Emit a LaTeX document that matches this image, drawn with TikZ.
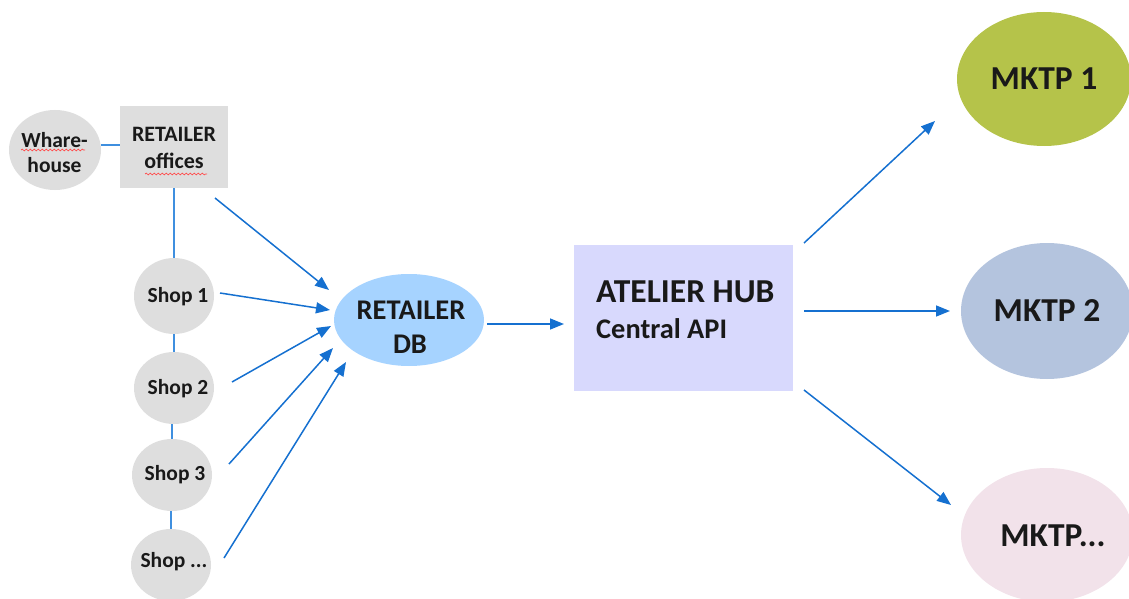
\documentclass[tikz,border=0pt]{standalone}
\usepackage{fontspec}
\setmainfont{Carlito}
\usetikzlibrary{arrows.meta,decorations.pathmorphing,shapes.geometric}
\definecolor{gr}{HTML}{DEDEDE}
\definecolor{ln}{HTML}{3F8FDF}
\definecolor{ar}{HTML}{1570D0}
\definecolor{dbc}{HTML}{A6D3FF}
\definecolor{hubc}{HTML}{D8D9FD}
\definecolor{m1c}{HTML}{B5C34A}
\definecolor{m2c}{HTML}{B4C4DE}
\definecolor{m3c}{HTML}{F2E2EA}
\tikzset{
 x=1pt,y=-1pt,
 ell/.style n args={3}{ellipse,draw=none,fill=#3,inner sep=0pt,minimum width=#1pt,minimum height=#2pt},
 box/.style n args={3}{rectangle,draw=none,fill=#3,inner sep=0pt,minimum width=#1pt,minimum height=#2pt},
 link/.style={draw=ln,line width=1.6pt},
 flow/.style={draw=ar,line width=1.5pt,-{Triangle[length=14pt,width=11pt]}},
 lab/.style={text=black!90,inner sep=0pt,anchor=base,align=center},
 labw/.style={lab,anchor=base west},
 sz/.style={font=\bfseries\fontsize{#1}{#1}\selectfont},
 squig/.style={draw=red!70!white,line width=.7pt,decorate,decoration={snake,amplitude=.9pt,segment length=4pt}},
}
\begin{document}
\begin{tikzpicture}
\useasboundingbox (0,0) rectangle (1129,599);
\clip (0,0) rectangle (1129,599);
% shapes
\node[ell={92}{80}{gr}] (wh) at (55,150) {};
\node[box={108}{82}{gr}] (off) at (174,147) {};
\node[ell={80}{76}{gr}] (s1) at (174,296) {};
\node[ell={80}{72}{gr}] (s2) at (174,388) {};
\node[ell={80}{72}{gr}] (s3) at (172,475) {};
\node[ell={80}{72}{gr}] (s4) at (171,565) {};
\node[ell={150}{92}{dbc}] (db) at (409,320) {};
\node[box={219}{146}{hubc}] (hub) at (683.5,318) {};
\node[ell={174}{134}{m1c}] (m1) at (1044,79) {};
\node[ell={172}{136}{m2c}] (m2) at (1047,311) {};
\node[ell={172}{134}{m3c}] (m3) at (1047,535) {};
% links
\draw[link] (wh.east |- 0,145) -- (off.west |- 0,145);
\draw[link] (off.south) -- (s1.north);
\draw[link] (s1.south) -- (s2.north);
\draw[link] (s2.south -| s3.north) -- (s3.north);
\draw[link] (s3.south -| s4.north) -- (s4.north);
% free arrow ends
\coordinate (a1s) at (215,198); \coordinate (a1e) at (329,290);
\coordinate (a2s) at (220,293); \coordinate (a2e) at (330,310);
\coordinate (a3s) at (232,382); \coordinate (a3e) at (331,326);
\coordinate (a4s) at (229,464); \coordinate (a4e) at (333,348);
\coordinate (a5s) at (224,558); \coordinate (a5e) at (346,362);
\coordinate (b1s) at (487,324); \coordinate (b1e) at (564,324);
\coordinate (c1s) at (804,243); \coordinate (c1e) at (935,121);
\coordinate (c2s) at (804,311); \coordinate (c2e) at (950,311);
\coordinate (c3s) at (804,390); \coordinate (c3e) at (951,505);
\foreach \p/\q in {a1s/a1e,a2s/a2e,a3s/a3e,a4s/a4e,a5s/a5e,b1s/b1e,c1s/c1e,c2s/c2e,c3s/c3e}
  \draw[flow] (\p) -- (\q);
% text
\node[lab,sz=21.5] at (54.5,147) {Whare-};
\node[lab,sz=21.5] at (54.5,172) {house};
\node[lab,sz=22] at (174,142) {RETAILER};
\node[lab,sz=22] at (174,168) {offices};
\node[lab,sz=21.5] at (178,302) {Shop 1};
\node[lab,sz=21.5] at (178,394) {Shop 2};
\node[lab,sz=21.5] at (175,480) {Shop 3};
\node[lab,sz=21.5] at (174,567) {Shop ...};
\node[lab,sz=28.5] at (411,319) {RETAILER};
\node[lab,sz=28.5] at (410,353) {DB};
\node[labw,sz=33.5] at (596,302) {ATELIER HUB};
\node[labw,sz=28.4] at (596,338) {Central API};
\node[lab,sz=33.5] at (1044,90) {MKTP 1};
\node[lab,sz=33.5] at (1047,321) {MKTP 2};
\node[lab,sz=33.5] at (1053,546) {MKTP...};
% spell-check underlines
\coordinate (w1) at (21,150); \coordinate (w2) at (85,150);
\coordinate (o1) at (145,174); \coordinate (o2) at (207,174);
\draw[squig] (w1) -- (w2);
\draw[squig] (o1) -- (o2);
\end{tikzpicture}
\end{document}
